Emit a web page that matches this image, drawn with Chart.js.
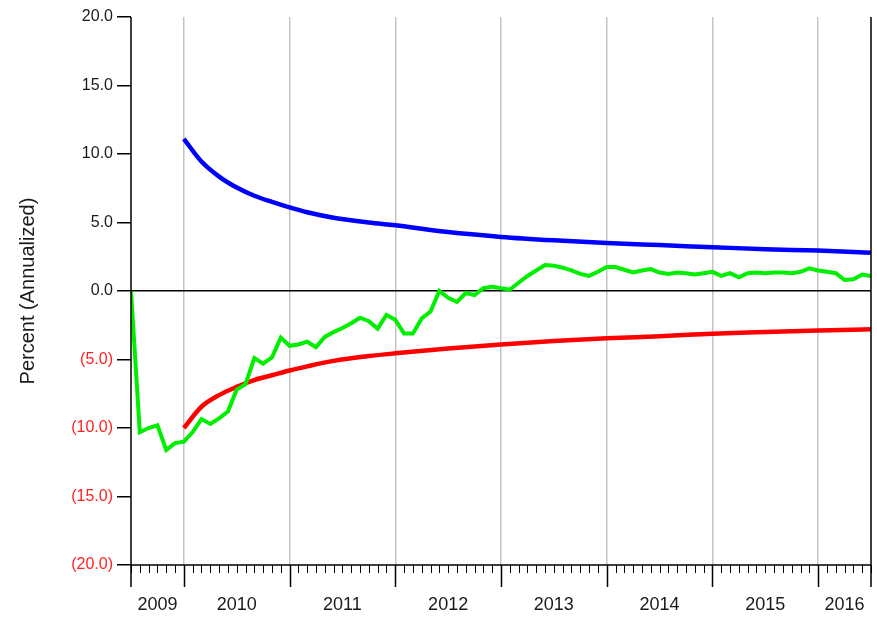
<!DOCTYPE html>
<html>
<head>
<meta charset="utf-8">
<script src="https://cdn.jsdelivr.net/npm/chart.js@4.4.1/dist/chart.umd.min.js"></script>
<style>
  html, body { margin: 0; padding: 0; background: #fff; }
  #chart { display: block; }
</style>
</head>
<body>
<canvas id="chart" width="877" height="617"></canvas>
<script>
// Monthly returns, month 0 = July 2009
const returnPct = [
  0.0, -10.3, -10.0, -9.8, -11.6, -11.1, -11.0, -10.3, -9.35, -9.7,
  -9.3, -8.8, -7.2, -6.8, -4.9, -5.3, -4.85, -3.4, -4.0, -3.9,
  -3.7, -4.1, -3.35, -3.0, -2.7, -2.35, -1.95, -2.2, -2.75, -1.75,
  -2.1, -3.1, -3.1, -2.0, -1.5, 0.0, -0.5, -0.8, -0.15, -0.3,
  0.2, 0.3, 0.2, 0.1, 0.6, 1.1, 1.5, 1.9, 1.85, 1.7,
  1.5, 1.25, 1.1, 1.4, 1.75, 1.75, 1.55, 1.35, 1.5, 1.6,
  1.35, 1.25, 1.35, 1.3, 1.2, 1.3, 1.4, 1.1, 1.3, 1.0,
  1.3, 1.35, 1.3, 1.35, 1.35, 1.3, 1.4, 1.65, 1.5, 1.4,
  1.3, 0.8, 0.85, 1.2, 1.1
];

// Upper / lower bands (read at selected months)
const bandMonths = [6, 8, 10, 12, 14, 16, 18, 20, 23, 27, 30, 36, 42, 48, 54, 60, 66, 72, 78, 84];
const upperPct = [11.1, 9.45, 8.35, 7.55, 6.95, 6.5, 6.1, 5.75, 5.35, 5.0, 4.8, 4.3, 3.95, 3.7, 3.5, 3.35, 3.2, 3.05, 2.95, 2.8];
const lowerPct = [-10.0, -8.45, -7.6, -7.0, -6.5, -6.15, -5.8, -5.5, -5.1, -4.75, -4.55, -4.2, -3.9, -3.65, -3.45, -3.3, -3.12, -3.0, -2.88, -2.8];

// Axis
const yearStartMonths = [6, 18, 30, 42, 54, 66, 78];
const yearLabels = ['2009', '2010', '2011', '2012', '2013', '2014', '2015', '2016'];
const yearLabelMonths = [3, 12, 24, 36, 48, 60, 72, 81];
const firstMonth = 0;
const lastMonth = 84;
const yTicks = [-20, -15, -10, -5, 0, 5, 10, 15, 20];

const TEXT = '#1a1a1a';
const FONT = "'Liberation Sans', Arial, sans-serif";

// Draws the black frame, month ticks and year labels under the plot
const timeAxisPlugin = {
  id: 'timeAxis',
  afterDraw(chart) {
    const ctx = chart.ctx;
    const x = chart.scales.x;
    const area = chart.chartArea;
    ctx.save();
    ctx.strokeStyle = '#000';
    ctx.lineWidth = 1.5;

    ctx.beginPath();
    ctx.moveTo(area.left, area.top);
    ctx.lineTo(area.left, area.bottom + 22);
    ctx.moveTo(area.right, area.top);
    ctx.lineTo(area.right, area.bottom + 22);
    ctx.moveTo(area.left, area.bottom);
    ctx.lineTo(area.right, area.bottom);
    ctx.stroke();

    for (let m = firstMonth; m <= lastMonth; m++) {
      const px = Math.round(x.getPixelForValue(m)) + 0.5;
      const major = yearStartMonths.includes(m);
      ctx.beginPath();
      ctx.moveTo(px, area.bottom);
      ctx.lineTo(px, area.bottom + (major ? 22 : 8));
      ctx.lineWidth = major ? 1.5 : 1;
      ctx.stroke();
    }

    ctx.fillStyle = TEXT;
    ctx.font = '18px ' + FONT;
    ctx.textAlign = 'center';
    ctx.textBaseline = 'middle';
    yearLabels.forEach((label, i) => {
      ctx.fillText(label, x.getPixelForValue(yearLabelMonths[i]), area.bottom + 40);
    });
    ctx.restore();
  }
};

new Chart(document.getElementById('chart'), {
  type: 'line',
  data: {
    datasets: [
      {
        data: returnPct.map((v, i) => ({ x: i, y: v })),
        borderColor: '#00ee00',
        borderWidth: 4,
        pointRadius: 0,
        tension: 0
      },
      {
        data: bandMonths.map((m, i) => ({ x: m, y: upperPct[i] })),
        borderColor: '#0000ff',
        borderWidth: 4.5,
        pointRadius: 0,
        cubicInterpolationMode: 'monotone'
      },
      {
        data: bandMonths.map((m, i) => ({ x: m, y: lowerPct[i] })),
        borderColor: '#ff0000',
        borderWidth: 4.5,
        pointRadius: 0,
        cubicInterpolationMode: 'monotone'
      }
    ]
  },
  options: {
    responsive: false,
    animation: false,
    layout: { padding: { top: 17, right: 6, left: 0, bottom: 0 } },
    plugins: {
      legend: { display: false },
      tooltip: { enabled: false }
    },
    scales: {
      x: {
        type: 'linear',
        min: firstMonth,
        max: lastMonth,
        afterBuildTicks: s => { s.ticks = yearStartMonths.map(v => ({ value: v })); },
        afterFit: s => { s.height = 52; },
        ticks: { display: false },
        grid: { color: '#c4c4c4', lineWidth: 1.5, drawTicks: false },
        border: { display: false }
      },
      y: {
        min: -20,
        max: 20,
        afterBuildTicks: s => { s.ticks = yTicks.map(v => ({ value: v })); },
        afterFit: s => { s.width = 131; },
        ticks: {
          padding: 4,
          font: { family: FONT, size: 16 },
          color: c => c.tick.value < 0 ? '#ff2222' : TEXT,
          callback: v => v < 0 ? '(' + Math.abs(v).toFixed(1) + ')' : v.toFixed(1)
        },
        grid: {
          color: c => c.tick.value === 0 ? '#000' : 'rgba(0,0,0,0)',
          tickColor: '#000',
          tickLength: 14,
          lineWidth: 1.5
        },
        border: { display: false },
        title: {
          display: true,
          text: 'Percent (Annualized)',
          color: TEXT,
          font: { family: FONT, size: 20 },
          padding: { top: 16, bottom: 0 }
        }
      }
    }
  },
  plugins: [timeAxisPlugin]
});
</script>
</body>
</html>
